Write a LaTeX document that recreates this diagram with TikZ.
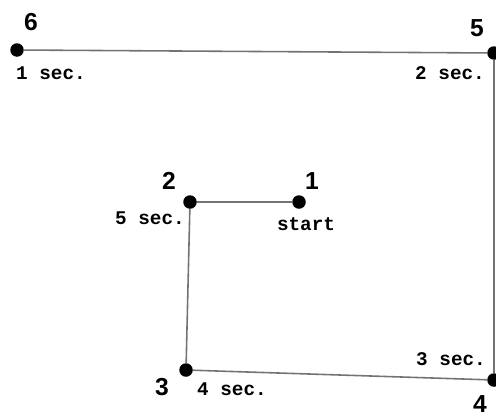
\documentclass[tikz,border=0pt]{standalone}
\usepackage{fontspec}
\setmainfont{Liberation Sans}
\setmonofont{Liberation Mono}
\usetikzlibrary{positioning}

\begin{document}
\begin{tikzpicture}
    [x=0.02cm, y=-0.02cm,
    edge/.style={draw=black!55, line width=0.9pt},
    vertex/.style={inner sep=0pt, minimum size=0.27cm, circle, fill=black},
    num/.style={font=\bfseries\fontsize{14}{14}\selectfont},
    secs/.style={font=\ttfamily\bfseries\fontsize{11}{11}\selectfont}]
    \useasboundingbox (0,0) rectangle (496,416);
        %% path vertices
    \node[vertex] (V1) at (299,202) {};
    \node[vertex] (V2) at (190,202) {};
    \node[vertex] (V3) at (186,370) {};
    \node[vertex] (V4) at (494,380) {};
    \node[vertex] (V5) at (494,53) {};
    \node[vertex] (V6) at (17,50) {};

    \draw[edge] (V1) -- (V2);
    \draw[edge] (V2) -- (V3);
    \draw[edge] (V3) -- (V4);
    \draw[edge] (V4) -- (V5);
    \draw[edge] (V5) -- (V6);

        %% numbers
    \node[num] (N1) at (312,181) {1};
    \node[num] (N2) at (169,181) {2};
    \node[num] (N3) at (162,387) {3};
    \node[num] (N4) at (480,404) {4};
    \node[num] (N5) at (477,28) {5};
    \node[num] (N6) at (31,22) {6};

        %% times
    \node[secs] (T1) at (306,224) {start};
    \node[secs] (T2) at (150,218) {5 sec.};
    \node[secs] (T3) at (232,389) {4 sec.};
    \node[secs] (T4) at (451,359) {3 sec.};
    \node[secs] (T5) at (450,73) {2 sec.};
    \node[secs] (T6) at (51,73) {1 sec.};
    \end{tikzpicture}
\end{document}
